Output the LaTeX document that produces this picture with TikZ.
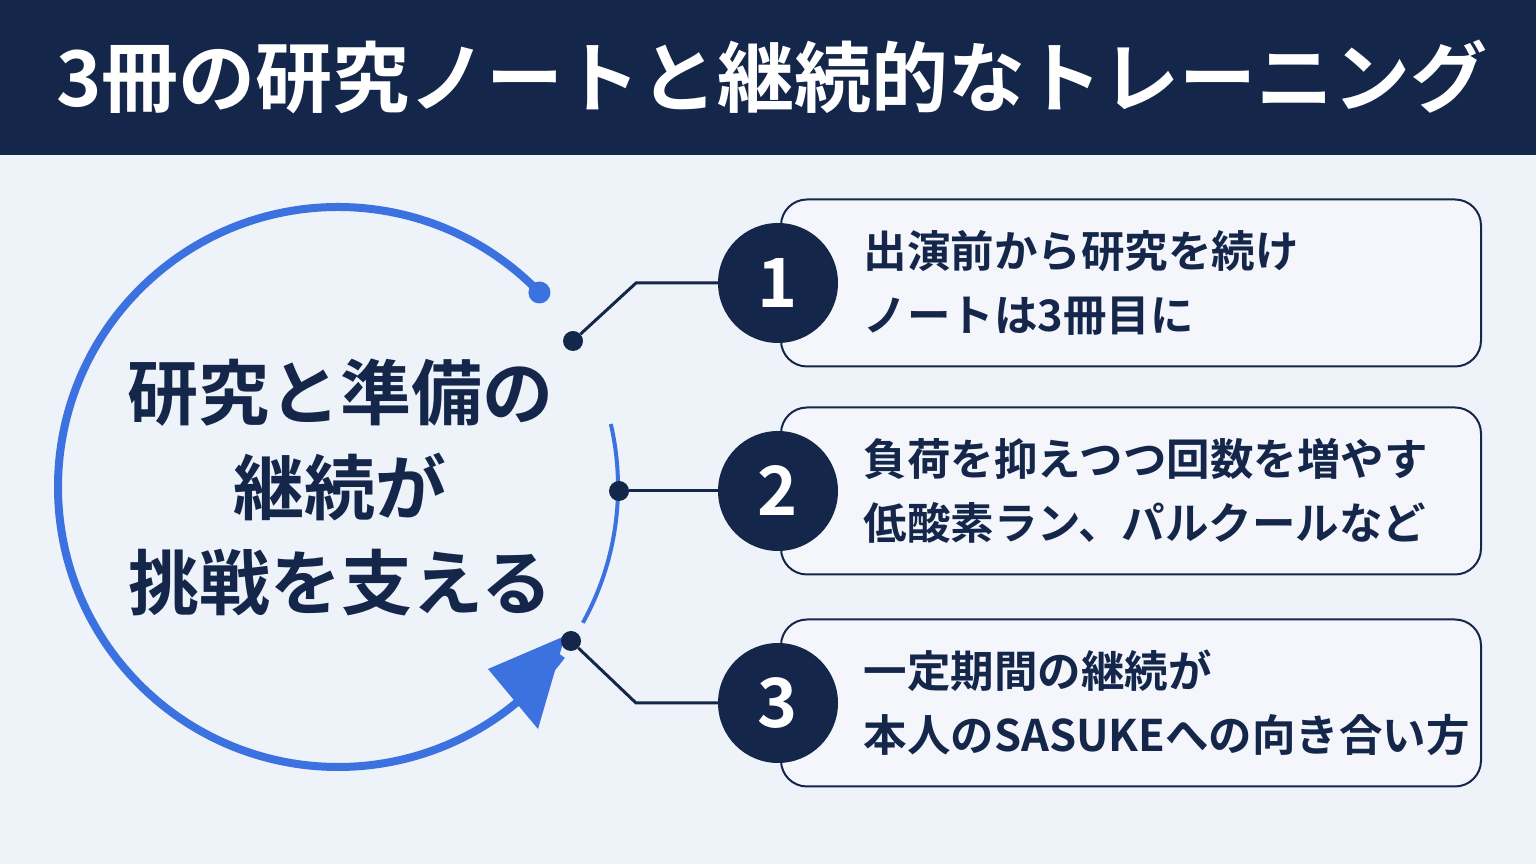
\documentclass[tikz,border=0pt]{standalone}
\usepackage{fontspec}
\setmainfont{Noto Sans CJK JP}[BoldFont={* Bold}]
\usetikzlibrary{arrows.meta,positioning}
\definecolor{navy}{HTML}{14274A}
\definecolor{bluearc}{HTML}{3B72E0}
\definecolor{bgpale}{HTML}{EEF2F9}
\definecolor{boxfill}{HTML}{F4F6FB}
\begin{document}
\begin{tikzpicture}[x=1pt,y=1pt,
    num_circle/.style={circle,fill=navy,text=white,minimum size=120pt,inner sep=0pt,
      font=\bfseries\fontsize{68}{72}\selectfont},
    item_box/.style={draw=navy,line width=2pt,rounded corners=26pt,fill=boxfill,
      minimum width=700pt,minimum height=167pt,anchor=west},
    item_text/.style={anchor=west,align=left,text=navy,
      font=\bfseries\fontsize{43.5}{64}\selectfont},
    joint/.style={circle,fill=navy,inner sep=0pt,minimum size=20pt},
    link/.style={draw=navy,line width=3pt}
]
\useasboundingbox (0,0) rectangle (1536,864);
\fill[bgpale] (0,0) rectangle (1536,864);
% title
\fill[navy] (0,709) rectangle (1536,864);
\node[text=white,font=\bfseries\fontsize{77}{80}\selectfont] (title) at (772,787)
  {3冊の研究ノートと継続的なトレーニング};
% cycle
\draw[bluearc,line width=8pt] (338,377)++(44:280) arc[start angle=44,end angle=323,radius=280];
\fill[bluearc] (338,377)++(44:280) circle (11pt);
\draw[bluearc,line width=4pt] (338,377)++(13:280) arc[start angle=13,end angle=-29,radius=280];
\fill[bluearc] (565,228) -- (488,195) -- (538,135) -- cycle;
\node[text=navy,align=center,font=\bfseries\fontsize{71}{95}\selectfont] (core) at (340,377)
  {研究と準備の\\継続が\\挑戦を支える};
% items
\foreach \n/\y/\txt in {1/581/{出演前から研究を続け\\ノートは3冊目に},
                        2/373/{負荷を抑えつつ回数を増やす\\低酸素ラン、パルクールなど},
                        3/161/{一定期間の継続が\\本人のSASUKEへの向き合い方}}{
  \node[item_box] (box\n) at (780,\y) {};
  \node[item_text] (text\n) at (860,\y) {\txt};
  \node[num_circle] (num\n) at (778,\y) {\n};
}
\node[joint] (j1) at (573,523) {};
\node[joint] (j2) at (619,373) {};
\node[joint] (j3) at (571,223) {};
\coordinate (k1) at (636,581);
\coordinate (k3) at (636,161);
\draw[link] (j1) -- (k1) -- (num1);
\draw[link] (j2) -- (num2);
\draw[link] (j3) -- (k3) -- (num3);
\end{tikzpicture}
\end{document}
